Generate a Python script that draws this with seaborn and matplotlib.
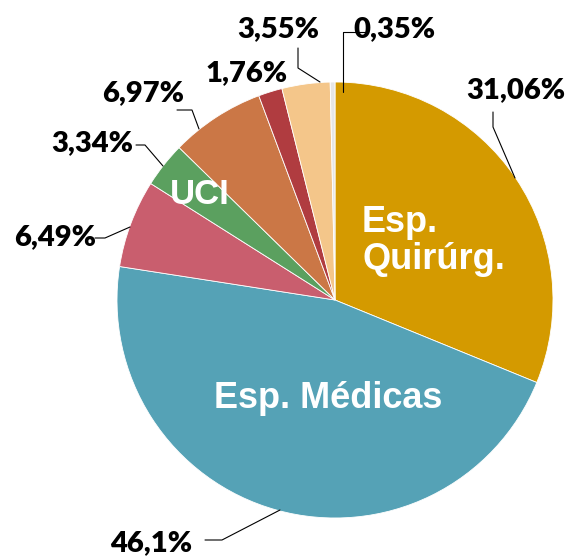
import seaborn as sns
from matplotlib import pyplot as plt

# slices, clockwise from 12 o'clock
shares = [31.06, 46.1, 6.49, 3.34, 6.97, 1.76, 3.55, 0.35]
pct_labels = ["31,06%", "46,1%", "6,49%", "3,34%", "6,97%", "1,76%", "3,55%", "0,35%"]
slice_colors = ["#D49A00", "#55A2B6", "#C95E6E", "#5BA05F", "#CB7746", "#B03C40", "#F4C68A", "#E6E6E6"]
inner_names = ["Esp.\nQuirúrg.", "Esp. Médicas", "", "UCI", "", "", "", ""]

sns.set_theme(style="white")
plt.rcParams['font.family'] = ['Lato', 'DejaVu Sans']

fig = plt.figure(figsize=(5.67, 5.57), dpi=100)
ax = fig.add_axes([0, 0, 1, 1])

cx, cy, r = 335, 557 - 300, 218
ax.pie(shares, colors=sns.color_palette(slice_colors), startangle=90, counterclock=False,
       center=(cx, cy), radius=r, normalize=True,
       wedgeprops=dict(edgecolor='white', linewidth=0.6))
ax.set_aspect('auto')
ax.set_xlim(0, 567)
ax.set_ylim(0, 557)
ax.axis('off')

# label text position (px, top-left origin) and leader line points
label_pos = [(516, 90), (151, 543), (55, 237), (92, 143), (143, 93), (247, 73), (278, 29), (394, 29)]
leaders = [
    [(515, 178), (493, 127), (493, 112)],
    [(280, 510), (222, 540), (205, 540)],
    [(130, 227), (105, 238), (95, 238)],
    [(163, 166), (145, 145), (136, 145)],
    [(199, 129), (192, 110), (177, 110)],
    None,
    [(320, 82), (298, 68), (298, 48)],
    [(343, 92), (343, 32), (368, 32)],
]

for lab, (x, y), pts in zip(pct_labels, label_pos, leaders):
    ax.text(x, 557 - y, lab, ha='center', va='center', fontsize=21, fontweight='heavy', color='black')
    if pts:
        ax.plot([p[0] for p in pts], [557 - p[1] for p in pts], color='black', lw=0.8)

# inner category names: (x, y, size, horizontal alignment)
inner_pos = {0: (362, 241, 26, 'left'), 1: (328, 398, 26, 'center'), 3: (200, 195, 25, 'center')}
for i, (x, y, fs, ha) in inner_pos.items():
    ax.text(x, 557 - y, inner_names[i], ha=ha, va='center', fontsize=fs, multialignment='left',
            fontweight='bold', color='white', family=['Liberation Sans', 'DejaVu Sans'],
            linespacing=1.1)

fig.savefig("out.png", dpi=100)
